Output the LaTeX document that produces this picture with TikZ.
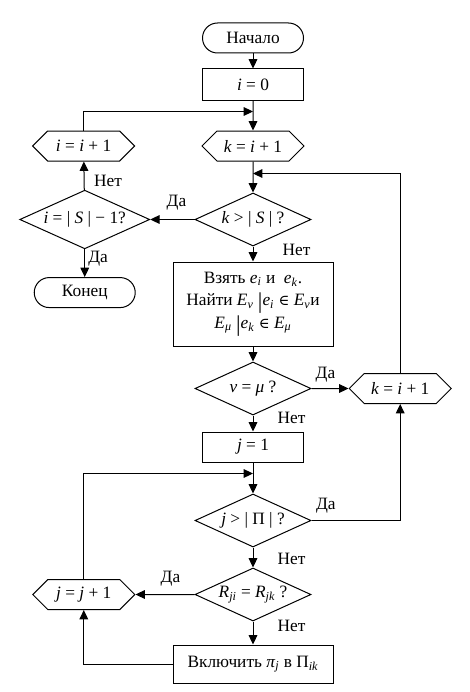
\documentclass[tikz,border=0pt]{standalone}
\usepackage{fontspec}
\setmainfont{Liberation Serif}
\newfontfamily\symfont{DejaVu Serif}
\usepackage{tikz}
\usetikzlibrary{shapes.geometric,shapes.symbols,arrows.meta,positioning,calc}

\newcommand{\isub}[1]{\textsubscript{\textit{#1}}}
\newcommand{\elem}{{\symfont\fontsize{11}{11}\selectfont ∈}}
\newcommand{\tbar}{\raisebox{-2pt}{\fontsize{17}{17}\selectfont|}}

\begin{document}
\begin{tikzpicture}[node distance=11.25pt, line width=0.75pt,
    font=\fontsize{13}{16}\selectfont,
    term/.style={rectangle, draw, rounded corners=11.25pt, minimum width=75.75pt, minimum height=22.5pt, inner sep=1pt},
    process/.style={rectangle, draw, minimum width=75.75pt, minimum height=23.25pt, inner sep=2pt, align=center},
    bigproc/.style={process, minimum width=120pt},
    prep/.style={signal, signal to=west and east, signal pointer angle=90, draw, minimum width=76.5pt, minimum height=22.5pt, inner sep=1pt},
    decision/.style={diamond, draw, aspect=2.2, minimum width=87pt, minimum height=39.75pt, inner sep=0pt},
    lbl/.style={inner sep=0pt},
    line/.style={draw, -{Triangle[length=7pt,width=6.5pt]}}]

    \useasboundingbox (0,0) rectangle (352.5pt,-519pt);

    % Main column
    \node [term] (start) at (189.75pt,-28.5pt) {Начало};
    \node [process, below=of start] (izero) {\textit{i} = 0};
    \node [prep, below=22.5pt of izero] (khex) {\textit{k} = \textit{i} + 1};
    \node [decision, below=23.25pt of khex] (dk) {\textit{k} > | \textit{S} | ?};
    \node [bigproc, below=of dk, minimum height=63pt] (take) {
        Взять \textit{e}\isub{i} и~ \textit{e}\isub{k}.\\[1pt]
        Найти \textit{E}\isub{ν} \tbar\textit{e}\isub{i} \elem{} \textit{E}\isub{ν}и\\[1pt]
        \textit{E}\isub{μ} \tbar\textit{e}\isub{k} \elem{} \textit{E}\isub{μ}
    };
    \node [decision, below=of take] (dnu) {\textit{ν} = \textit{μ} ?};
    \node [process, below=12pt of dnu, minimum height=22.5pt] (jone) {\textit{j} = 1};
    \node [decision, below=23.25pt of jone] (dj) {\textit{j} > | Π | ?};
    \node [decision, below=15pt of dj] (dr) {\textit{R}\isub{ji} = \textit{R}\isub{jk} ?};
    \node [bigproc, below=17.25pt of dr, minimum height=28.5pt] (incl) {Включить \textit{π}\isub{j} в Π\isub{ik}};

    % Side nodes
    \node [prep, left=49.5pt of khex] (ihex) {\textit{i} = \textit{i} + 1};
    \node [decision, left=33.2pt of dk, minimum width=97.5pt, minimum height=44pt] (di) {\textit{i} = | \textit{S} | − 1?};
    \node [term, below=20.8pt of di] (stop) {Конец};
    \node [prep, right=27.75pt of dnu] (khex2) {\textit{k} = \textit{i} + 1};
    \node [prep, left=44.25pt of dr] (jhex) {\textit{j} = \textit{j} + 1};

    % Junction points
    \coordinate [below=8.25pt of izero] (join1);
    \coordinate [below=9pt of khex] (join2);
    \coordinate [below=8.25pt of jone] (join3);

    % Labels
    \node [lbl] (yes1) at ([shift={(-13.5pt,12.75pt)}]dk.west) {Да};
    \node [lbl] (no1) at ([shift={(17.5pt,6.75pt)}]di.north) {Нет};
    \node [lbl] (yes2) at ([shift={(10pt,-6.75pt)}]di.south) {Да};
    \node [lbl] (no2) at ([shift={(32.6pt,-2.25pt)}]dk.south) {Нет};
    \node [lbl] (yes3) at ([shift={(10.5pt,10.5pt)}]dnu.east) {Да};
    \node [lbl] (no3) at ([shift={(28.9pt,-2pt)}]dnu.south) {Нет};
    \node [lbl] (yes4) at ([shift={(10.7pt,11.25pt)}]dj.east) {Да};
    \node [lbl] (no4) at ([shift={(28.9pt,-8.6pt)}]dj.south) {Нет};
    \node [lbl] (yes5) at ([shift={(-18pt,12pt)}]dr.west) {Да};
    \node [lbl] (no5) at ([shift={(28.9pt,-3.4pt)}]dr.south) {Нет};

    % Connectors
    \draw [line] (start) -- (izero);
    \draw [line] (izero) -- (khex);
    \draw [line] (khex) -- (dk);
    \draw [line] (ihex.north) |- (join1);
    \draw [line] (khex2.north) |- (join2);
    \draw [line] (dk) -- (di);
    \draw [line] (di) -- (ihex);
    \draw [line] (di) -- (stop);
    \draw [line] (dk) -- (take);
    \draw [line] (take) -- (dnu);
    \draw [line] (dnu) -- (khex2);
    \draw [line] (dnu) -- (jone);
    \draw [line] (jone) -- (dj);
    \draw [line] (dj.east) -| (khex2.south);
    \draw [line] (dj) -- (dr);
    \draw [line] (dr) -- (jhex);
    \draw [line] (dr) -- (incl);
    \draw [line] (incl.west) -| (jhex.south);
    \draw [line] (jhex.north) |- (join3);
\end{tikzpicture}
\end{document}
